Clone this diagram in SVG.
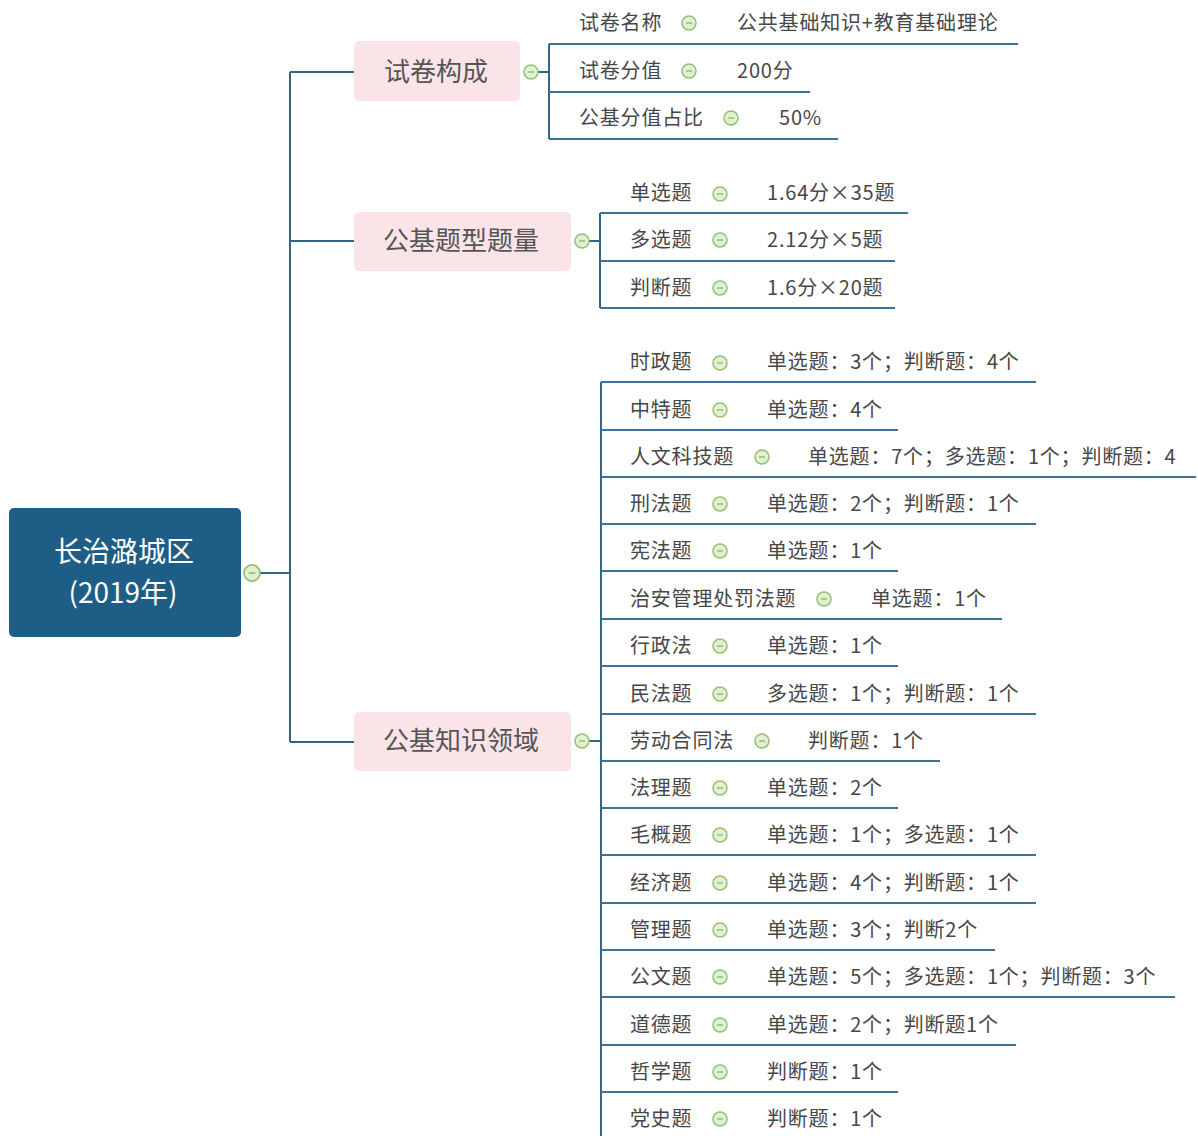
<svg xmlns="http://www.w3.org/2000/svg" xmlns:xlink="http://www.w3.org/1999/xlink" width="1198" height="1136" viewBox="0 0 1198 1136">
<style>
.t{font-family:"Noto Sans CJK SC","Microsoft YaHei",sans-serif;font-size:20px;fill:#474747;letter-spacing:0.8px}
.g{font-family:"Noto Sans CJK SC","Microsoft YaHei",sans-serif;font-size:26px;fill:#555555;text-anchor:middle}
.r{font-family:"Noto Sans CJK SC","Microsoft YaHei",sans-serif;font-size:28px;fill:#ffffff;text-anchor:middle}
.ln{fill:none;stroke:#2f6689;stroke-width:2}
.ul{fill:none;stroke:#3d7394;stroke-width:1.8}
.box{fill:#fbe4e7}
</style>
<defs>
<g id="tog">
<circle cx="0" cy="0" r="7" fill="#e2f0d2" stroke="#92c172" stroke-width="1.5"/>
<line x1="-3" y1="0" x2="3" y2="0" stroke="#86b068" stroke-width="1.2"/>
</g>
</defs>
<rect width="1198" height="1136" fill="#ffffff"/>

<g id="connectors">
<path class="ln" d="M260,573 H290 M290,72 V742 M290,72 H354 M290,241 H354 M290,742 H354"/>
<path class="ln" d="M538,72 H549 M549,44 V139"/>
<path class="ln" d="M589,241 H600 M600,213 V308"/>
<path class="ln" d="M589,741 H601 M601,382 V1136"/>
</g>

<g id="root">
<rect x="9" y="508" width="232" height="129" rx="5" fill="#1d5d86"/>
<text class="r" x="124" y="562">长治潞城区</text>
<text class="r" x="123" y="603">(2019年)</text>
<g transform="translate(252,573) scale(1.15)"><use href="#tog"/></g>
</g>

<g id="g1">
<rect class="box" x="354" y="41" width="166" height="60" rx="5"/>
<text class="g" x="436" y="81">试卷构成</text>
<use href="#tog" x="531" y="72"/>
</g>
<g id="g1c1"><path class="ul" d="M549,44 H1018"/><text class="t" x="579" y="30">试卷名称</text><use href="#tog" x="689" y="23"/><text class="t" x="737" y="30">公共基础知识+教育基础理论</text></g>
<g id="g1c2"><path class="ul" d="M549,92 H810"/><text class="t" x="579" y="78">试卷分值</text><use href="#tog" x="689" y="71"/><text class="t" x="737" y="78">200分</text></g>
<g id="g1c3"><path class="ul" d="M549,139 H838"/><text class="t" x="579" y="125">公基分值占比</text><use href="#tog" x="731" y="118"/><text class="t" x="779" y="125">50%</text></g>

<g id="g2">
<rect class="box" x="354" y="212" width="217" height="59" rx="5"/>
<text class="g" x="461" y="250">公基题型题量</text>
<use href="#tog" x="582" y="241"/>
</g>
<g id="g2c1"><path class="ul" d="M600,213 H908"/><text class="t" x="630" y="200">单选题</text><use href="#tog" x="720" y="194"/><text class="t" x="767" y="200">1.64分×35题</text></g>
<g id="g2c2"><path class="ul" d="M600,261 H895"/><text class="t" x="630" y="247">多选题</text><use href="#tog" x="720" y="240"/><text class="t" x="767" y="247">2.12分×5题</text></g>
<g id="g2c3"><path class="ul" d="M600,308 H895"/><text class="t" x="630" y="295">判断题</text><use href="#tog" x="720" y="288"/><text class="t" x="767" y="295">1.6分×20题</text></g>

<g id="g3">
<rect class="box" x="354" y="712" width="217" height="59" rx="5"/>
<text class="g" x="461" y="750">公基知识领域</text>
<use href="#tog" x="582" y="741"/>
</g>
<g id="g3c1"><path class="ul" d="M601,382 H1036"/><text class="t" x="630" y="369">时政题</text><use href="#tog" x="720" y="363"/><text class="t" x="767" y="369">单选题：3个；判断题：4个</text></g>
<g id="g3c2"><path class="ul" d="M601,430 H898"/><text class="t" x="630" y="417">中特题</text><use href="#tog" x="720" y="410"/><text class="t" x="767" y="417">单选题：4个</text></g>
<g id="g3c3"><path class="ul" d="M601,477 H1196"/><text class="t" x="630" y="464">人文科技题</text><use href="#tog" x="762" y="457"/><text class="t" x="808" y="464">单选题：7个；多选题：1个；判断题：4</text></g>
<g id="g3c4"><path class="ul" d="M601,524 H1036"/><text class="t" x="630" y="511">刑法题</text><use href="#tog" x="720" y="504"/><text class="t" x="767" y="511">单选题：2个；判断题：1个</text></g>
<g id="g3c5"><path class="ul" d="M601,571 H898"/><text class="t" x="630" y="558">宪法题</text><use href="#tog" x="720" y="551"/><text class="t" x="767" y="558">单选题：1个</text></g>
<g id="g3c6"><path class="ul" d="M601,619 H1002"/><text class="t" x="630" y="606">治安管理处罚法题</text><use href="#tog" x="824" y="599"/><text class="t" x="871" y="606">单选题：1个</text></g>
<g id="g3c7"><path class="ul" d="M601,666 H898"/><text class="t" x="630" y="653">行政法</text><use href="#tog" x="720" y="646"/><text class="t" x="767" y="653">单选题：1个</text></g>
<g id="g3c8"><path class="ul" d="M601,714 H1036"/><text class="t" x="630" y="701">民法题</text><use href="#tog" x="720" y="694"/><text class="t" x="767" y="701">多选题：1个；判断题：1个</text></g>
<g id="g3c9"><path class="ul" d="M601,761 H940"/><text class="t" x="630" y="748">劳动合同法</text><use href="#tog" x="762" y="741"/><text class="t" x="808" y="748">判断题：1个</text></g>
<g id="g3c10"><path class="ul" d="M601,808 H898"/><text class="t" x="630" y="795">法理题</text><use href="#tog" x="720" y="788"/><text class="t" x="767" y="795">单选题：2个</text></g>
<g id="g3c11"><path class="ul" d="M601,855 H1036"/><text class="t" x="630" y="842">毛概题</text><use href="#tog" x="720" y="835"/><text class="t" x="767" y="842">单选题：1个；多选题：1个</text></g>
<g id="g3c12"><path class="ul" d="M601,903 H1036"/><text class="t" x="630" y="890">经济题</text><use href="#tog" x="720" y="883"/><text class="t" x="767" y="890">单选题：4个；判断题：1个</text></g>
<g id="g3c13"><path class="ul" d="M601,950 H995"/><text class="t" x="630" y="937">管理题</text><use href="#tog" x="720" y="930"/><text class="t" x="767" y="937">单选题：3个；判断2个</text></g>
<g id="g3c14"><path class="ul" d="M601,997 H1175"/><text class="t" x="630" y="984">公文题</text><use href="#tog" x="720" y="977"/><text class="t" x="767" y="984">单选题：5个；多选题：1个；判断题：3个</text></g>
<g id="g3c15"><path class="ul" d="M601,1045 H1016"/><text class="t" x="630" y="1032">道德题</text><use href="#tog" x="720" y="1025"/><text class="t" x="767" y="1032">单选题：2个；判断题1个</text></g>
<g id="g3c16"><path class="ul" d="M601,1092 H898"/><text class="t" x="630" y="1079">哲学题</text><use href="#tog" x="720" y="1072"/><text class="t" x="767" y="1079">判断题：1个</text></g>
<g id="g3c17"><path class="ul" d="M601,1139 H898"/><text class="t" x="630" y="1126">党史题</text><use href="#tog" x="720" y="1119"/><text class="t" x="767" y="1126">判断题：1个</text></g>
</svg>
